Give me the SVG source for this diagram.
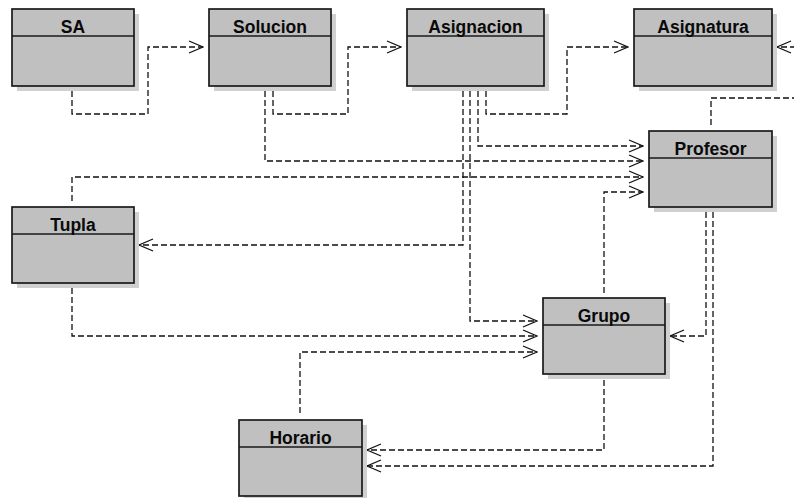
<svg xmlns="http://www.w3.org/2000/svg" width="794" height="498" viewBox="0 0 794 498">
<defs>
<style>
.shadow{fill:#d0d0d0;stroke:none}
.box{fill:#c0c0c0;stroke:#1a1a1a;stroke-width:1.7}
.div{stroke:#1a1a1a;stroke-width:1.7}
.title{font-family:"Liberation Sans",Arial,sans-serif;font-weight:bold;font-size:17.5px;fill:#0a0a0a;text-anchor:middle}
.dep{fill:none;stroke:#111;stroke-width:1.3;stroke-dasharray:6,3;marker-end:url(#open)}
</style>
<marker id="open" viewBox="0 0 16 14" refX="15" refY="7" markerWidth="16" markerHeight="14" markerUnits="userSpaceOnUse" orient="auto">
<path d="M1,1 L15,7 L1,13" fill="none" stroke="#111" stroke-width="1.3"/>
</marker>
</defs>
<rect width="794" height="498" fill="#fff"/>
<g id="connectors">
<path class="dep" d="M72,91 V114 H148 V47 H203"/>
<path class="dep" d="M273,91 V114 H348 V47 H401"/>
<path class="dep" d="M486,91 V114 H567 V47 H628"/>
<path class="dep" d="M711,125 V98 H800 V47 H777"/>
<path class="dep" d="M478,91 V146 H643"/>
<path class="dep" d="M265,91 V161 H643"/>
<path class="dep" d="M72,201 V177 H643"/>
<path class="dep" d="M604,293 V192 H643"/>
<path class="dep" d="M463,91 V245 H139"/>
<path class="dep" d="M470,91 V321 H537"/>
<path class="dep" d="M72,288 V336 H537"/>
<path class="dep" d="M300,413 V352 H537"/>
<path class="dep" d="M706,212 V336 H670"/>
<path class="dep" d="M713,212 V466 H367"/>
<path class="dep" d="M604,380 V450 H367"/>
</g>
<g id="SA">
<rect class="shadow" x="17" y="14" width="122" height="77"/>
<rect class="box" x="12" y="9" width="122" height="77"/>
<line class="div" x1="12" y1="36" x2="134" y2="36"/>
<text class="title" x="73" y="33">SA</text>
</g>
<g id="Solucion">
<rect class="shadow" x="214" y="14" width="122" height="77"/>
<rect class="box" x="209" y="9" width="122" height="77"/>
<line class="div" x1="209" y1="36" x2="331" y2="36"/>
<text class="title" x="270" y="33">Solucion</text>
</g>
<g id="Asignacion">
<rect class="shadow" x="412" y="14" width="137" height="77"/>
<rect class="box" x="407" y="9" width="137" height="77"/>
<line class="div" x1="407" y1="36" x2="544" y2="36"/>
<text class="title" x="475.5" y="33">Asignacion</text>
</g>
<g id="Asignatura">
<rect class="shadow" x="639" y="14" width="138" height="77"/>
<rect class="box" x="634" y="9" width="138" height="77"/>
<line class="div" x1="634" y1="36" x2="772" y2="36"/>
<text class="title" x="703" y="33">Asignatura</text>
</g>
<g id="Profesor">
<rect class="shadow" x="654" y="136" width="123" height="76"/>
<rect class="box" x="649" y="131" width="123" height="76"/>
<line class="div" x1="649" y1="158" x2="772" y2="158"/>
<text class="title" x="710.5" y="155">Profesor</text>
</g>
<g id="Tupla">
<rect class="shadow" x="17" y="212" width="122" height="76"/>
<rect class="box" x="12" y="207" width="122" height="76"/>
<line class="div" x1="12" y1="234" x2="134" y2="234"/>
<text class="title" x="73" y="231">Tupla</text>
</g>
<g id="Grupo">
<rect class="shadow" x="548" y="303" width="122" height="76"/>
<rect class="box" x="543" y="298" width="122" height="76"/>
<line class="div" x1="543" y1="325" x2="665" y2="325"/>
<text class="title" x="604" y="322">Grupo</text>
</g>
<g id="Horario">
<rect class="shadow" x="244" y="425" width="123" height="76"/>
<rect class="box" x="239" y="420" width="123" height="76"/>
<line class="div" x1="239" y1="447" x2="362" y2="447"/>
<text class="title" x="300.5" y="444">Horario</text>
</g>
</svg>
